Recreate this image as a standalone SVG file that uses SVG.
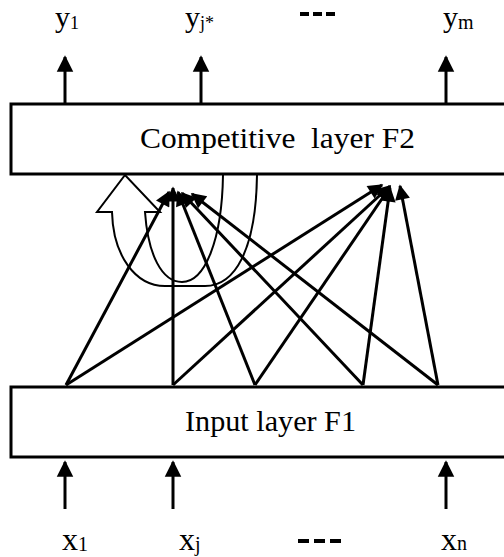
<svg xmlns="http://www.w3.org/2000/svg" width="504" height="557" viewBox="0 0 504 557">
  <style>
    .box { fill: #fff; stroke: #000; stroke-width: 3; }
    .lbl { font-family: "Liberation Serif", "Times New Roman", serif; fill: #000; }
    .wire { stroke: #000; stroke-width: 3; fill: none; }
    .io { stroke: #000; stroke-width: 3; fill: none; }
    .loop { stroke: #000; stroke-width: 2; fill: none; stroke-linejoin: miter; }
    .dash { stroke: #000; stroke-width: 4; }
  </style>
  <defs>
    <marker id="head" viewBox="0 0 10 10" refX="9" refY="5" markerWidth="6" markerHeight="5" orient="auto" markerUnits="strokeWidth">
      <path d="M0,0 L10,5 L0,10 Z" fill="#000"/>
    </marker>
    <marker id="iohead" viewBox="0 0 10 10" refX="9" refY="5" markerWidth="5.5" markerHeight="6" orient="auto" markerUnits="strokeWidth">
      <path d="M0,0 L10,5 L0,10 Z" fill="#000"/>
    </marker>
  </defs>

  <!-- output labels -->
  <g id="out-labels" class="lbl">
    <text x="55" y="27" font-size="30">y<tspan font-size="18" dy="2">1</tspan></text>
    <text x="185" y="27" font-size="30">y<tspan font-size="18" dy="2">j*</tspan></text>
    <text x="443" y="27" font-size="30">y<tspan font-size="20" dy="2">m</tspan></text>
    <line class="dash" x1="300" y1="14" x2="336" y2="14" stroke-dasharray="9,4"/>
  </g>

  <!-- output arrows -->
  <g id="out-arrows">
    <line class="io" x1="65" y1="104" x2="65" y2="57" marker-end="url(#iohead)"/>
    <line class="io" x1="201" y1="104" x2="201" y2="57" marker-end="url(#iohead)"/>
    <line class="io" x1="446" y1="104" x2="446" y2="57" marker-end="url(#iohead)"/>
  </g>

  <!-- competitive layer -->
  <g id="f2">
    <rect class="box" x="11" y="104" width="500" height="70"/>
    <text class="lbl" x="140" y="148" font-size="30" textLength="275" lengthAdjust="spacingAndGlyphs" xml:space="preserve">Competitive  layer F2</text>
  </g>

  <!-- input layer -->
  <g id="f1">
    <rect class="box" x="11" y="387" width="500" height="70"/>
    <text class="lbl" x="185" y="431" font-size="30" textLength="171" lengthAdjust="spacingAndGlyphs">Input layer F1</text>
  </g>

  <!-- curved self-feedback arrow (hollow outline, open at the layer edge) -->
  <g id="winner-loop">
    <path class="loop" d="M223,175 C222,240 205,282 182,282 C162,282 148,255 145,212 L160,212 L125,175 L97,212 L112,212 C113,255 135,286 165,286 L205,286 C235,286 256,250 257,175"/>
  </g>

  <!-- bottom-up weighted connections -->
  <g id="connectors">
    <line class="wire" x1="66" y1="385" x2="169" y2="192" marker-end="url(#head)"/>
    <line class="wire" x1="173" y1="385" x2="173" y2="188" marker-end="url(#head)"/>
    <line class="wire" x1="255" y1="385" x2="178" y2="192" marker-end="url(#head)"/>
    <line class="wire" x1="363" y1="385" x2="182" y2="193" marker-end="url(#head)"/>
    <line class="wire" x1="438" y1="385" x2="192" y2="194" marker-end="url(#head)"/>

    <line class="wire" x1="66" y1="385" x2="382" y2="185" marker-end="url(#head)"/>
    <line class="wire" x1="173" y1="385" x2="390" y2="186" marker-end="url(#head)"/>
    <line class="wire" x1="255" y1="385" x2="390" y2="187" marker-end="url(#head)"/>
    <line class="wire" x1="363" y1="385" x2="390" y2="188" marker-end="url(#head)"/>
    <line class="wire" x1="438" y1="385" x2="400" y2="186" marker-end="url(#head)"/>
  </g>

  <!-- input arrows -->
  <g id="in-arrows">
    <line class="io" x1="65" y1="509" x2="65" y2="462" marker-end="url(#iohead)"/>
    <line class="io" x1="173" y1="509" x2="173" y2="462" marker-end="url(#iohead)"/>
    <line class="io" x1="446" y1="509" x2="446" y2="462" marker-end="url(#iohead)"/>
  </g>

  <!-- input labels -->
  <g id="in-labels" class="lbl">
    <text x="62" y="550" font-size="32">x<tspan font-size="20" dy="1">1</tspan></text>
    <text x="179" y="550" font-size="32">x<tspan font-size="20" dy="1">j</tspan></text>
    <text x="441" y="550" font-size="32">x<tspan font-size="20" dy="0">n</tspan></text>
    <line class="dash" x1="298" y1="541" x2="342" y2="541" stroke-dasharray="11,5"/>
  </g>
</svg>
